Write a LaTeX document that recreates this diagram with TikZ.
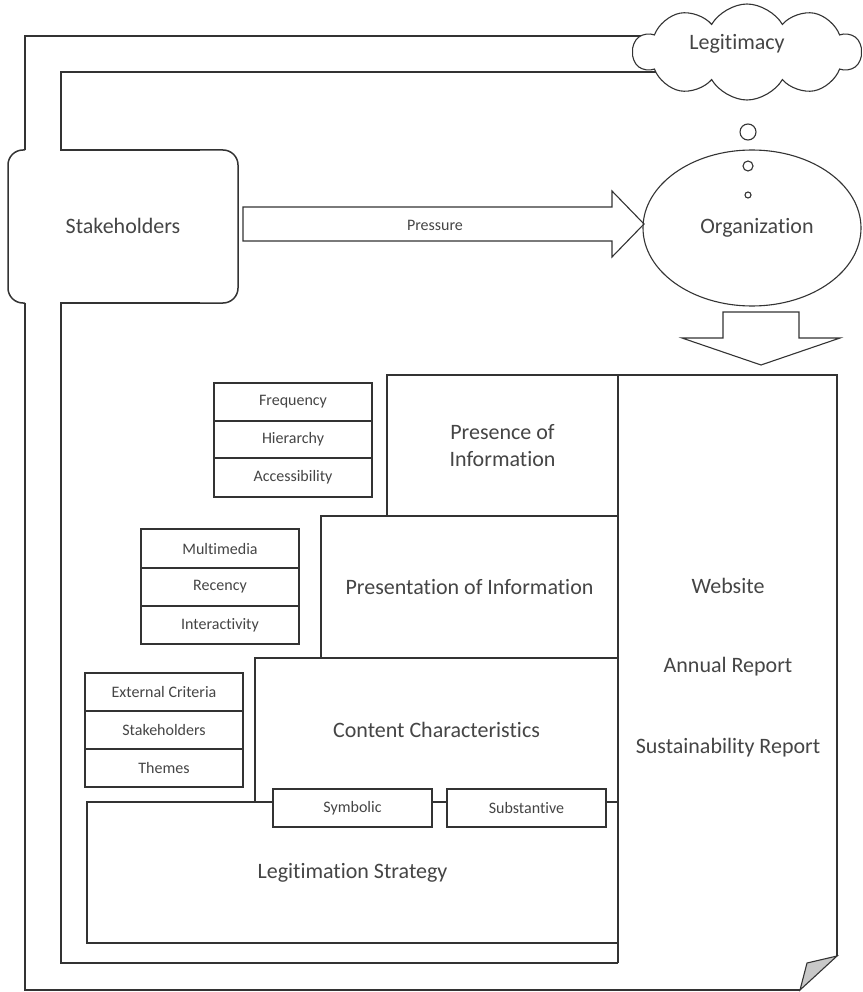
\documentclass[tikz,border=0pt]{standalone}
\usepackage{fontspec}
\setmainfont{Carlito}[Ligatures=NoCommon]
\usetikzlibrary{shapes.geometric,shapes.symbols}
\definecolor{ln}{HTML}{333333}
\definecolor{tx}{HTML}{454545}
\definecolor{foldgray}{HTML}{C8C8C8}
\begin{document}
\begin{tikzpicture}[x=1pt,y=-1pt,
  wire/.style={draw=ln,line width=1.5pt},
  thin/.style={draw=ln,line width=1.1pt},
  big/.style={font=\fontsize{22}{26.5}\selectfont,text=tx,align=center},
  small/.style={font=\fontsize{16}{19}\selectfont,text=tx},
  box/.style={draw=ln,line width=1.6pt,fill=white,inner sep=0pt,outer sep=0pt,anchor=north west},
  sbox/.style={box,small,minimum width=158pt}]
\useasboundingbox (0,0) rectangle (862,992);

% channel lines (outer and inner loops)
\coordinate (o1) at (690,36);
\coordinate (i1) at (690,72);
\draw[wire] (o1) -- (25,36) -- (25,150);
\draw[wire,rounded corners=15pt] (25,150) -- (8,150) -- (8,303) -- (25,303);
\draw[wire] (25,303) -- (25,990) -- (800,990);
\draw[wire] (i1) -- (61,72) -- (61,150) -- (200,150);
\draw[wire,rounded corners=15pt] (200,150) -- (238,150) -- (238,303) -- (200,303);
\draw[wire] (200,303) -- (61,303) -- (61,963) -- (618,963);
\node[big] (stake) at (123,226) {Stakeholders};

% cloud
\node[cloud,thin,fill=white,cloud puffs=10,cloud puff arc=120,aspect=2.4,
      minimum width=228pt,minimum height=96pt,inner sep=0pt] (legit) at (747,52) {};
\node[big] (legittxt) at (737,44) {Legitimacy};

% organization
\node[ellipse,thin,fill=white,minimum width=218pt,minimum height=156pt,inner sep=0pt] (org) at (752,228) {};
\node[big] (orgtxt) at (757,228) {Organization};
\node[circle,thin,minimum size=16pt,inner sep=0pt] (b1) at (748,132) {};
\node[circle,thin,minimum size=10pt,inner sep=0pt] (b2) at (748,166) {};
\node[circle,thin,minimum size=6pt,inner sep=0pt] (b3) at (748,195) {};

% pressure arrow
\draw[thin,line join=miter] (243,207) -- (612,207) -- (612,191) -- (644,224) -- (612,257) -- (612,241) -- (243,241) -- cycle;
\node[small] (press) at (435,225) {Pressure};

% down arrow
\draw[thin] (723,312) -- (799,312) -- (799,338) -- (840,338) -- (761,365) -- (682,338) -- (723,338) -- cycle;

% document
\draw[wire] (618,963) -- (618,375) -- (837,375) -- (837,956);
\draw[thin,fill=foldgray] (837,956) -- (807,963) -- (800,990) -- cycle;
\node[big] (web) at (728,586) {Website};
\node[big] (annual) at (728,667) {Annual Report};
\node[big] (sust) at (728,748) {Sustainability Report};

% main boxes
\node[box,big,minimum width=531pt,minimum height=141pt] (legstrat) at (87,802) {Legitimation Strategy};
\node[box,big,minimum width=363pt,minimum height=144pt] (content) at (255,658) {Content Characteristics};
\node[box,big,minimum width=297pt,minimum height=142pt] (present) at (321,516) {Presentation of Information};
\node[box,big,minimum width=231pt,minimum height=141pt] (presence) at (387,375) {Presence of\\Information};
\node[sbox,minimum width=159pt,minimum height=38pt] (symb) at (273,789) {Symbolic};
\node[sbox,minimum width=159pt,minimum height=38pt] (subst) at (447,789) {Substantive};

% left groups
\node[sbox,minimum height=38pt] (freq) at (214,383) {Frequency};
\node[sbox,minimum height=37pt] (hier) at (214,421) {Hierarchy};
\node[sbox,minimum height=39pt] (acc) at (214,458) {Accessibility};

\node[sbox,minimum height=39pt] (multi) at (141,529) {Multimedia};
\node[sbox,minimum height=38pt] (rec) at (141,568) {Recency};
\node[sbox,minimum height=38pt] (inter) at (141,606) {Interactivity};

\node[sbox,minimum height=38pt] (ext) at (85,673) {External Criteria};
\node[sbox,minimum height=38pt] (stk) at (85,711) {Stakeholders};
\node[sbox,minimum height=38pt] (them) at (85,749) {Themes};
\end{tikzpicture}
\end{document}
